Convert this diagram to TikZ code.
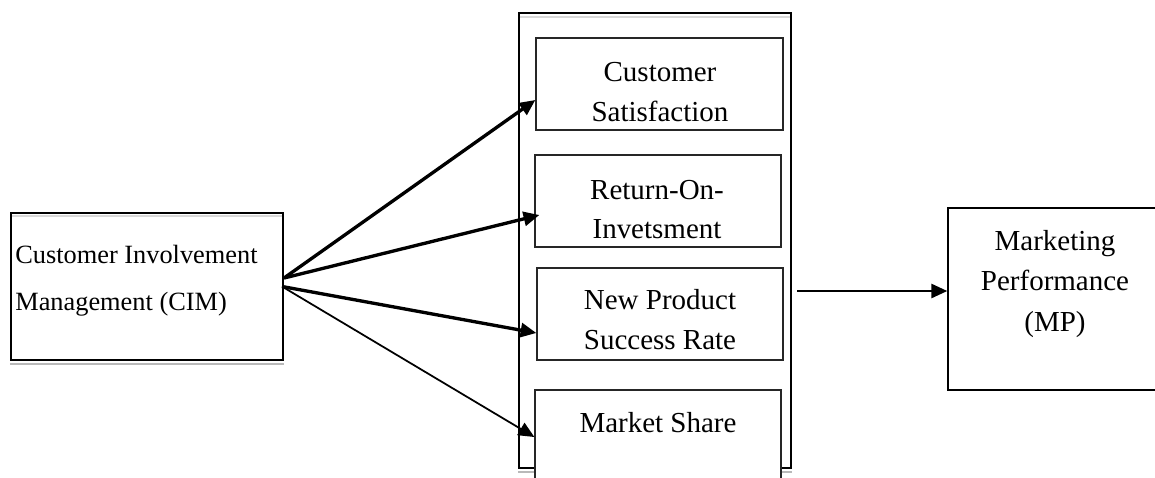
\documentclass[tikz,border=0pt]{standalone}
\usepackage{fontspec}
\setmainfont{Liberation Serif}
\usetikzlibrary{calc,arrows.meta}
\tikzstyle{frame}=[rectangle, draw=black, line width=1.2pt, inner sep=0pt]
\tikzstyle{item}=[rectangle, draw=black!85, line width=0.75pt, fill=white, minimum width=4.92cm, minimum height=1.84cm, inner sep=0pt]
\tikzstyle{txt}=[inner sep=0pt, align=center, font=\fontsize{16.5}{22.7}\selectfont]
\tikzstyle{rim}=[gray!55, line width=0.9pt]
\tikzstyle{link}=[->, line width=1.9pt]

\begin{document}
\begin{tikzpicture}[x=0.02cm, y=-0.02cm, >={Triangle[length=9pt, width=8pt]}]

\useasboundingbox (0,0) rectangle (1155,477);
\clip (0,0) rectangle (1155,477);

\node [frame, minimum width=5.44cm, minimum height=2.94cm] (cim) at (147,286.5) {};
\node [frame, minimum width=5.44cm, minimum height=9.1cm] (panel) at (655,240.5) {};
\node [frame, line width=0.85pt, minimum width=4.28cm, minimum height=3.64cm] (mp) at (1055,299) {};

\draw [rim] ($(cim.south west)+(0,3)$) -- ($(cim.south east)+(0,3)$);
\draw [rim, gray!30] ($(cim.north west)+(2,4)$) -- ($(cim.north east)+(-2,4)$);
\draw [rim] ($(panel.south west)+(0,3)$) -- ($(panel.south east)+(0,3)$);
\draw [rim, gray!30] ($(panel.north west)+(2,5)$) -- ($(panel.north east)+(-2,5)$);

\node [item, minimum width=4.94cm] (cs) at (659.5,84) {};
\node [item] (roi) at (658,201) {};
\node [item] (nps) at (660,314) {};
\node [item, minimum height=2.2cm] (ms) at (658,445) {};

\node [txt] (cs-t) at (660,92) {Customer\\Satisfaction};
\node [txt] (roi-t) at (657,209.5) {Return-On-\\Invetsment};
\node [txt] (nps-t) at (660,320) {New Product\\Success Rate};
\node [txt, anchor=base] (ms-t) at (658,432) {Market Share};
\node [txt, font=\fontsize{16.5}{23.3}\selectfont] (mp-t) at (1055,284) {Marketing\\Performance\\(MP)};
\node [txt, align=left, anchor=west, font=\fontsize{15}{26.6}\selectfont] (cim-t) at (15,280.5) {Customer Involvement\\Management (CIM)};

\coordinate (out1) at ([yshift=0.17cm]cim.east);
\coordinate (out2) at ([xshift=-0.04cm]cim.east);
\coordinate (mpin) at ([yshift=0.16cm]mp.west);

\draw [link] (out1) -- ([yshift=-0.32cm]cs.west);
\draw [link] (out1) -- ([xshift=0.1cm, yshift=-0.28cm]roi.west);
\draw [link] (out2) -- ([yshift=-0.38cm]nps.west);
\draw [link, line width=1pt] (out2) -- ([yshift=0.16cm]ms.west);

\draw [link, line width=1.2pt] ($(panel.east |- mpin)+(5,0)$) -- (mpin);

\end{tikzpicture}
\end{document}
